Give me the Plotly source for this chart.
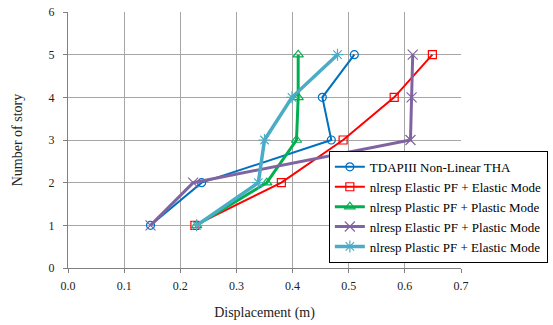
import plotly.graph_objects as go

story = [1, 2, 3, 4, 5]
tdap = [0.147, 0.238, 0.469, 0.453, 0.510]
ee = [0.226, 0.380, 0.490, 0.581, 0.649]
pp = [0.229, 0.354, 0.407, 0.410, 0.410]
ep = [0.147, 0.223, 0.610, 0.612, 0.614]
pe = [0.229, 0.339, 0.350, 0.399, 0.480]

names = ["TDAPIII Non-Linear THA", "nlresp Elastic PF + Elastic Mode",
         "nlresp Plastic PF + Plastic Mode", "nlresp Elastic PF + Plastic Mode",
         "nlresp Plastic PF + Elastic Mode"]
series = [tdap, ee, pp, ep, pe]
colors = ["#0070C0", "#FF0000", "#00B050", "#8064A2", "#4BACC6"]
widths = [2, 2, 3, 3, 3.5]
symbols = ["circle-open", "square-open", "triangle-up-open", "x-thin-open", "asterisk-open"]
msizes = [8, 8, 9, 10, 10]

fig = go.Figure()
for n, s, c, w, sy, ms in zip(names, series, colors, widths, symbols, msizes):
    fig.add_trace(go.Scatter(
        x=s, y=story, mode="lines+markers", name=n,
        line=dict(color=c, width=w),
        marker=dict(symbol=sy, size=ms, color=c, line=dict(color=c, width=1.2)),
    ))

font = "'Times New Roman', 'Liberation Serif', 'DejaVu Serif', serif"
fig.update_layout(
    width=553, height=325,
    margin=dict(l=68, r=92, t=12, b=57, autoexpand=False),
    paper_bgcolor="white", plot_bgcolor="white",
    font=dict(family=font, size=12, color="#222"),
    showlegend=True,
    legend=dict(x=1.221, y=0.02, xanchor="right", yanchor="bottom",
                bgcolor="white", bordercolor="black", borderwidth=1,
                font=dict(family=font, size=13, color="black"),
                tracegroupgap=0, itemwidth=30),
    xaxis=dict(range=[0, 0.7], dtick=0.1, tickformat=".1f",
               showgrid=True, gridcolor="#A6A6A6", gridwidth=1,
               showline=True, linecolor="#808080", linewidth=1,
               ticks="outside", ticklen=4, tickcolor="#808080",
               ticklabelstandoff=3,
               zeroline=False,
               title=dict(text="Displacement (m)", font=dict(family=font, size=14), standoff=14)),
    yaxis=dict(range=[0, 6], dtick=1,
               showgrid=True, gridcolor="#A6A6A6", gridwidth=1,
               showline=True, linecolor="#808080", linewidth=1,
               ticks="outside", ticklen=4, tickcolor="#808080",
               ticklabelstandoff=6,
               zeroline=False,
               title=dict(text="Number of story", font=dict(family=font, size=14), standoff=22)),
)
fig.write_html("out.html")
